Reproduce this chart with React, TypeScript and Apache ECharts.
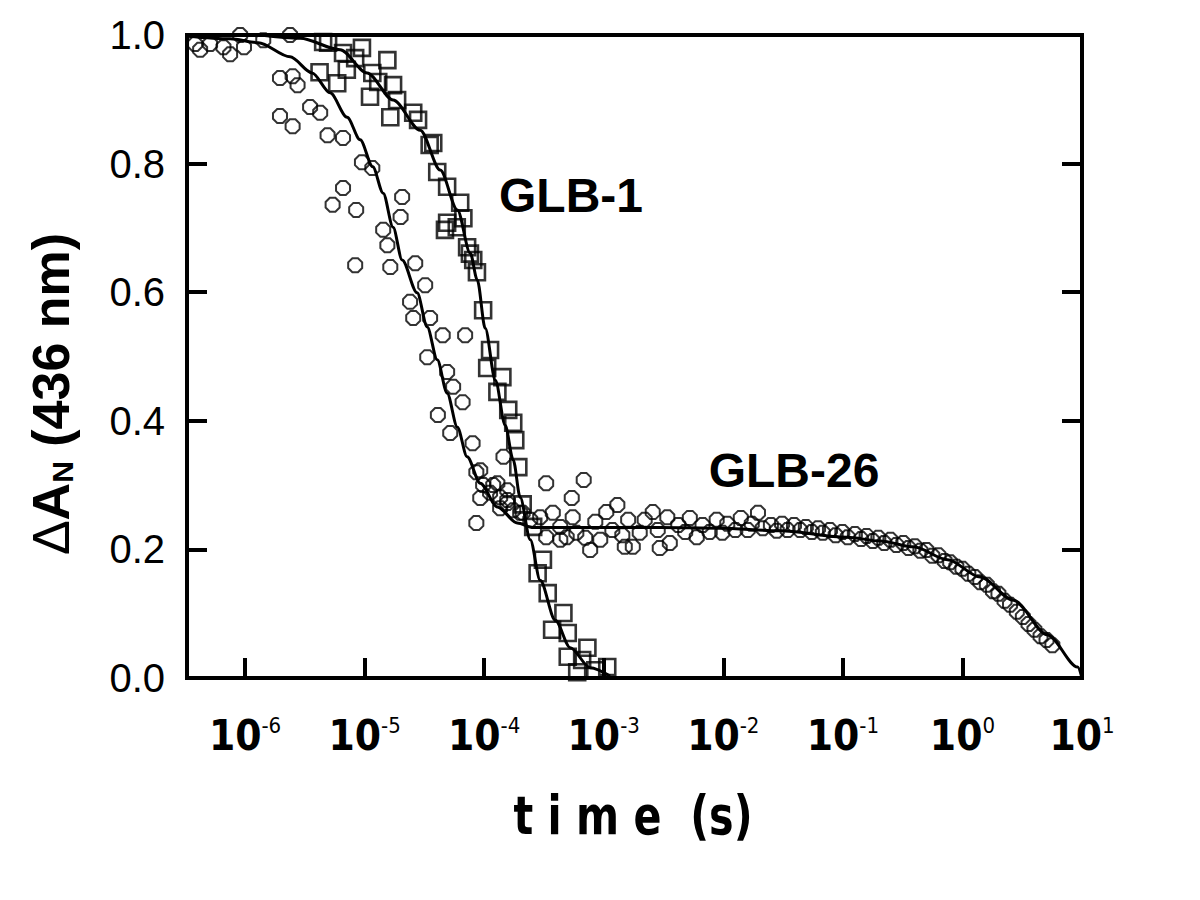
import React, { useEffect, useRef } from "react";
import * as echarts from "echarts";

const FONT = "'Liberation Sans', Arial, Helvetica, sans-serif";
const NARROW = "'Liberation Sans Narrow', 'DejaVu Sans Condensed', 'Liberation Sans', Arial, sans-serif";

const X_MIN = 3.27e-7;
const X_MAX = 10;
const Y_TICKS = [0, 0.2, 0.4, 0.6, 0.8, 1.0];

// GLB-1 (squares)
const glb1Times = [
  4.5e-6, 4.95e-6, 6.6e-6, 9.5e-6, 8.34e-6, 1.55e-5, 4.2e-6, 5.9e-6, 7.1e-6, 1.16e-5,
  1.3e-5, 1.73e-5, 1.11e-5, 1.87e-5, 1.64e-5, 2.55e-5, 2.8e-5, 3.75e-5, 3.5e-5, 4.05e-5,
  4.9e-5, 6.3e-5, 4.9e-5, 5.9e-5, 6.7e-5, 4.7e-5, 7.2e-5, 7.6e-5, 8.1e-5, 8.7e-5,
  9.8e-5, 1.12e-4, 1.06e-4, 1.42e-4, 1.29e-4, 1.59e-4, 1.75e-4, 1.82e-4, 1.93e-4, 2.1e-4,
  2.57e-4, 3.1e-4, 2.8e-4, 3.4e-4, 4.6e-4, 3.7e-4, 5.0e-4, 7.3e-4, 5.0e-4, 6.6e-4,
  1.07e-3, 6.0e-4, 8.5e-4,
];
const glb1Values = [
  0.989, 0.988, 0.972, 0.98, 0.964, 0.961, 0.942, 0.925, 0.946, 0.941,
  0.927, 0.922, 0.904, 0.899, 0.872, 0.879, 0.868, 0.832, 0.829, 0.787,
  0.764, 0.739, 0.708, 0.701, 0.715, 0.697, 0.67, 0.66, 0.65, 0.631,
  0.572, 0.51, 0.482, 0.468, 0.445, 0.417, 0.397, 0.37, 0.328, 0.27,
  0.235, 0.184, 0.163, 0.132, 0.101, 0.075, 0.07, 0.047, 0.033, 0.028,
  0.017, 0.009, 0.012,
];

// GLB-26 (open markers)
const glb26Times = [
  3.82e-7, 4.21e-7, 5.1e-7, 6.6e-7, 7.5e-7, 9.8e-7, 9.1e-7, 1.42e-6, 2.38e-6, 1.96e-6,
  2.5e-6, 2.75e-6, 1.96e-6, 2.5e-6, 3.5e-6, 4.25e-6, 4.9e-6, 6.6e-6, 6.6e-6, 5.4e-6,
  8.5e-6, 9.5e-6, 1.16e-5, 2.06e-5, 2.0e-5, 1.43e-5, 1.55e-5, 8.34e-6, 1.64e-5, 2.65e-5,
  3.21e-5, 2.4e-5, 2.55e-5, 3.53e-5, 4.5e-5, 6.93e-5, 3.34e-5, 4.9e-5, 5.5e-5, 6.6e-5,
  4.1e-5, 5.2e-5, 8.0e-5, 9.27e-5, 1.45e-4, 3.3e-4, 6.8e-4, 1.29e-4, 1.56e-4, 8.6e-5,
  9.27e-5, 1.19e-4, 1.36e-4, 1.56e-4, 5.4e-4, 8.6e-5, 3.75e-4, 4.33e-4, 7.7e-4, 7.0e-4,
  9.35e-4, 1.3e-3, 1.05e-3, 1.75e-3, 2.57e-3, 3.4e-3, 3.57e-3, 2.0e-3, 2.0e-4, 2.43e-4,
  2.94e-4, 3.3e-4, 4.33e-4, 4.9e-4, 5.5e-4, 5.9e-4, 8.5e-4, 1.18e-3, 1.43e-3, 1.6e-3,
  2.2e-3, 2.83e-3, 4.2e-3, 4.8e-3, 5.25e-3, 6.0e-3, 6.7e-3, 7.7e-3, 8.8e-3, 9.8e-3,
  1.08e-2, 1.26e-2, 1.4e-2, 1.6e-2, 1.73e-2, 1.95e-2, 2.14e-2, 2.5e-2, 2.8e-2, 3.1e-2,
  3.45e-2, 3.9e-2, 4.4e-2, 4.9e-2, 5.5e-2, 6.2e-2, 6.8e-2, 7.8e-2, 8.7e-2, 9.9e-2,
  0.11, 0.126, 0.142, 0.158, 0.178, 0.198, 0.222, 0.25, 0.28, 0.32,
  0.355, 0.4, 0.445, 0.5, 0.56, 0.63, 0.71, 0.79, 0.89, 1.0,
  1.12, 1.27, 1.41, 1.6, 1.8, 2.0, 2.25, 2.5, 2.85, 3.2,
  3.57, 4.0, 4.5, 5.05, 5.65, 9.8e-5, 1.12e-4, 1.36e-4, 1.56e-4, 1.75e-4,
  2.1e-4, 1.5e-3, 2.94e-3,
];
const glb26Values = [
  0.986, 0.977, 0.986, 0.981, 0.97, 0.981, 1.0, 0.992, 1.0, 0.933,
  0.936, 0.922, 0.874, 0.858, 0.888, 0.879, 0.844, 0.84, 0.762, 0.736,
  0.728, 0.802, 0.793, 0.748, 0.717, 0.697, 0.673, 0.642, 0.639, 0.645,
  0.611, 0.585, 0.56, 0.56, 0.533, 0.533, 0.499, 0.476, 0.453, 0.429,
  0.409, 0.381, 0.365, 0.323, 0.344, 0.303, 0.308, 0.303, 0.292, 0.32,
  0.28, 0.3, 0.264, 0.277, 0.28, 0.241, 0.257, 0.215, 0.199, 0.218,
  0.215, 0.269, 0.258, 0.204, 0.258, 0.25, 0.21, 0.226, 0.257, 0.246,
  0.25, 0.219, 0.235, 0.219, 0.25, 0.226, 0.243, 0.23, 0.222, 0.246,
  0.246, 0.23, 0.238, 0.227, 0.249, 0.219, 0.238, 0.227, 0.246, 0.226,
  0.24, 0.23, 0.249, 0.23, 0.24, 0.257, 0.233, 0.238, 0.229, 0.24,
  0.23, 0.238, 0.23, 0.235, 0.227, 0.233, 0.226, 0.23, 0.222, 0.227,
  0.219, 0.224, 0.216, 0.221, 0.213, 0.218, 0.21, 0.215, 0.207, 0.21,
  0.202, 0.205, 0.198, 0.199, 0.19, 0.191, 0.182, 0.18, 0.173, 0.17,
  0.162, 0.157, 0.149, 0.145, 0.135, 0.131, 0.12, 0.114, 0.103, 0.095,
  0.084, 0.075, 0.065, 0.059, 0.051, 0.3, 0.288, 0.281, 0.272, 0.261,
  0.257, 0.204, 0.202,
];

// fitted curves
const glb1FitTimes = [
  1.34e-6, 2.89e-6, 6.24e-6, 1.05e-5, 1.73e-5, 2.92e-5, 4.29e-5, 5.97e-5, 7.64e-5, 8.76e-5,
  1.02e-4, 1.24e-4, 1.5e-4, 1.75e-4, 2.0e-4, 2.43e-4, 2.94e-4, 3.93e-4, 5.25e-4, 7.7e-4, 1.13e-3,
];
const glb1FitValues = [
  1.0, 0.995, 0.977, 0.941, 0.899, 0.852, 0.79, 0.728, 0.661, 0.619,
  0.544, 0.463, 0.393, 0.339, 0.281, 0.215, 0.152, 0.09, 0.047, 0.016, 0.003,
];
const glb26FitTimes = [
  3.3e-7, 7.5e-7, 1.29e-6, 2.38e-6, 3.64e-6, 5.15e-6, 7.14e-6, 9.18e-6, 1.17e-5, 1.43e-5,
  1.73e-5, 2.06e-5, 2.75e-5, 3.34e-5, 4.05e-5, 4.9e-5, 5.97e-5, 7.2e-5, 9.27e-5, 1.29e-4,
  1.89e-4, 2.57e-4, 6.37e-4, 2.94e-3, 9.35e-3, 2.94e-2, 0.108, 0.206, 0.39, 0.75,
  1.41, 2.67, 5.15, 9.2, 10,
];
const glb26FitValues = [
  0.998, 0.994, 0.988, 0.966, 0.941, 0.91, 0.872, 0.837, 0.795, 0.754,
  0.701, 0.65, 0.599, 0.546, 0.495, 0.443, 0.39, 0.344, 0.303, 0.266,
  0.241, 0.234, 0.234, 0.234, 0.233, 0.229, 0.219, 0.213, 0.204, 0.184,
  0.157, 0.121, 0.067, 0.017, 0,
];

const zip = (ts: number[], vs: number[]) => ts.map((t, i) => [t, vs[i]]);

const OCTAGON = "path://M3,0 L7,0 L10,3 L10,7 L7,10 L3,10 L0,7 L0,3 Z";

export default function App() {
  const ref = useRef<HTMLDivElement>(null);
  useEffect(() => {
    const chart = echarts.init(ref.current!, null, { renderer: "svg" });
    chart.setOption({
      animation: false,
      backgroundColor: "#ffffff",
      grid: {
        left: 187,
        top: 35,
        width: 895,
        height: 643,
        show: true,
        borderColor: "#000",
        borderWidth: 4,
        backgroundColor: "transparent",
      },
      xAxis: {
        type: "log",
        logBase: 10,
        min: X_MIN,
        max: X_MAX,
        splitNumber: 7,
        axisLine: { show: true, lineStyle: { color: "#000", width: 4 } },
        axisTick: { show: true, inside: true, length: 20, lineStyle: { color: "#000", width: 4 } },
        minorTick: { show: false },
        splitLine: { show: false },
        axisLabel: {
          margin: 36,
          color: "#000",
          formatter: (v: number) => {
            const e = Math.log10(v);
            const r = Math.round(e);
            if (Math.abs(e - r) > 1e-6) return "";
            return "{b|10}{s|" + r + "}";
          },
          rich: {
            b: { fontSize: 42, lineHeight: 42, fontFamily: NARROW, fontWeight: "bold", color: "#000" },
            s: { fontSize: 22, lineHeight: 22, fontFamily: NARROW, verticalAlign: "top", color: "#000" },
          },
        },
      },
      yAxis: [
        {
          type: "value",
          min: 0,
          max: 1,
          interval: 0.2,
          position: "left",
          axisLine: { show: true, lineStyle: { color: "#000", width: 4 } },
          axisTick: { show: true, inside: true, length: 20, lineStyle: { color: "#000", width: 4 } },
          splitLine: { show: false },
          axisLabel: {
            margin: 22,
            fontSize: 40,
            fontFamily: FONT,
            color: "#000",
            formatter: (v: number) => (Y_TICKS.includes(Math.round(v * 10) / 10) ? v.toFixed(1) : ""),
          },
        },
        {
          type: "value",
          min: 0,
          max: 1,
          interval: 0.2,
          position: "right",
          axisLine: { show: true, lineStyle: { color: "#000", width: 4 } },
          axisTick: { show: true, inside: true, length: 20, lineStyle: { color: "#000", width: 4 } },
          splitLine: { show: false },
          axisLabel: { show: false },
        },
      ],
      series: [
        {
          name: "GLB-26 data",
          type: "scatter",
          symbol: OCTAGON,
          symbolSize: 14,
          clip: false,
          data: zip(glb26Times, glb26Values),
          itemStyle: { color: "rgba(0,0,0,0)", borderColor: "#000", borderWidth: 2 },
        },
        {
          name: "GLB-1 data",
          type: "scatter",
          symbol: "rect",
          symbolSize: 16,
          clip: false,
          data: zip(glb1Times, glb1Values),
          itemStyle: { color: "rgba(0,0,0,0)", borderColor: "#000", borderWidth: 2.6 },
        },
        {
          name: "GLB-26 fit",
          type: "line",
          smooth: 0.3,
          smoothMonotone: "x",
          showSymbol: false,
          symbol: "none",
          data: zip(glb26FitTimes, glb26FitValues),
          lineStyle: { color: "#000", width: 3 },
        },
        {
          name: "GLB-1 fit",
          type: "line",
          smooth: 0.3,
          smoothMonotone: "x",
          showSymbol: false,
          symbol: "none",
          data: zip(glb1FitTimes, glb1FitValues),
          lineStyle: { color: "#000", width: 3 },
        },
      ],
      graphic: [
        {
          type: "text",
          x: 571,
          y: 195,
          style: {
            text: "GLB-1",
            font: "bold 48px " + FONT,
            fill: "#000",
            align: "center",
            verticalAlign: "middle",
          },
        },
        {
          type: "text",
          x: 794,
          y: 470,
          style: {
            text: "GLB-26",
            font: "bold 48px " + FONT,
            fill: "#000",
            align: "center",
            verticalAlign: "middle",
          },
        },
        {
          type: "text",
          x: 633,
          y: 815,
          scaleX: 0.85,
          style: {
            text: "t i m e  (s)",
            font: "bold 54px " + NARROW,
            fill: "#000",
            align: "center",
            verticalAlign: "middle",
          },
        },
        {
          type: "text",
          x: 51,
          y: 394,
          rotation: Math.PI / 2,
          style: {
            text: "{d|Δ}{a|A}{n|N}{a| (436 nm)}",
            align: "center",
            verticalAlign: "middle",
            fill: "#000",
            rich: {
              d: { fontSize: 52, fontFamily: FONT, fontWeight: "normal", fill: "#000", color: "#000" },
              a: { fontSize: 52, fontFamily: FONT, fontWeight: "bold", fill: "#000", color: "#000" },
              n: { fontSize: 30, fontFamily: FONT, fontWeight: "bold", fill: "#000", color: "#000", verticalAlign: "bottom" },
            },
          },
        },
      ],
    });
    return () => chart.dispose();
  }, []);
  return (
    <div
      ref={ref}
      style={{ position: "fixed", left: 0, top: 0, width: 1200, height: 900, background: "#fff" }}
    />
  );
}
